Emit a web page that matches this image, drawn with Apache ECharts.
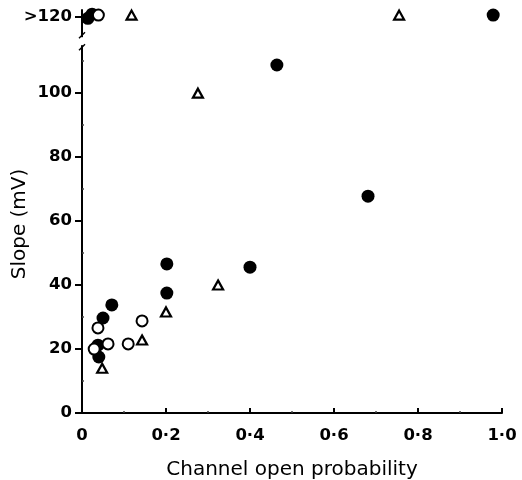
<!DOCTYPE html>
<html>
<head>
<meta charset="utf-8">
<script src="https://cdn.jsdelivr.net/npm/echarts@6/dist/echarts.min.js"></script>
<style>
html, body { margin: 0; padding: 0; background: #fff; }
#chart { width: 522px; height: 480px; }
</style>
</head>
<body>
<div id="chart"></div>
<script>
// 数据
var filledX = [0.014, 0.024, 0.038, 0.040, 0.050, 0.071, 0.202, 0.202, 0.400, 0.464, 0.681, 0.979];
var filledY = [123.4, 124.7, 21.2, 17.5, 29.7, 33.8, 46.6, 37.5, 45.6, 108.8, 67.8, 124.4];

var openX = [0.029, 0.038, 0.062, 0.110, 0.143, 0.039];
var openY = [20.0, 26.6, 21.6, 21.6, 28.8, 124.4];

var triX = [0.048, 0.143, 0.200, 0.324, 0.276, 0.118, 0.755];
var triY = [14.0, 22.8, 31.6, 40.0, 100.0, 124.4, 124.4];

var yTicks = [0, 20, 40, 60, 80, 100, 124];
var yMinorTicks = [10, 30, 50, 70, 90, 110];
var yTopLabel = '>120';

function pairs(xs, ys) {
    var out = [];
    for (var i = 0; i < xs.length; i++) out.push([xs[i], ys[i]]);
    return out;
}

var font = 'DejaVu Sans, sans-serif';
var chart = echarts.init(document.getElementById('chart'));

var option = {
    animation: false,
    grid: { left: 82, right: 20, top: 10, bottom: 67, outerBoundsMode: 'none', containLabel: false },
    xAxis: {
        type: 'value',
        min: 0,
        max: 1,
        interval: 0.2,
        name: 'Channel open probability',
        nameLocation: 'middle',
        nameGap: 47,
        nameTextStyle: { color: '#000', fontSize: 20, fontFamily: font },
        splitLine: { show: false },
        axisLine: { lineStyle: { color: '#000', width: 2 } },
        axisTick: { inside: true, length: 5, lineStyle: { color: '#000', width: 2 } },
        minorTick: { show: true, splitNumber: 2, length: 2, lineStyle: { color: '#444', width: 1.5 } },
        axisLabel: {
            margin: 14,
            color: '#000',
            fontSize: 16.5,
            fontWeight: 'bold',
            fontFamily: font,
            formatter: function (v) {
                return v === 0 ? '0' : v.toFixed(1).replace('.', '·');
            }
        }
    },
    yAxis: [
        {
            type: 'value',
            min: 0,
            max: 126,
            splitLine: { show: false },
            axisLine: { lineStyle: { color: '#000', width: 2 } },
            axisTick: { customValues: yTicks, length: 7, lineStyle: { color: '#000', width: 2 } },
            axisLabel: {
                customValues: yTicks,
                margin: 10,
                color: '#000',
                fontSize: 16.5,
                fontWeight: 'bold',
                fontFamily: font,
                formatter: function (v) {
                    return v === 124 ? yTopLabel : String(v);
                }
            }
        },
        {
            // 次刻度
            type: 'value',
            min: 0,
            max: 126,
            position: 'left',
            splitLine: { show: false },
            axisLine: { show: false },
            axisLabel: { show: false },
            axisTick: { customValues: yMinorTicks, inside: true, length: 2, lineStyle: { color: '#444', width: 1.5 } }
        }
    ],
    series: [
        {
            name: 'filled',
            type: 'scatter',
            symbol: 'circle',
            symbolSize: 13,
            itemStyle: { color: '#000', opacity: 1 },
            data: pairs(filledX, filledY)
        },
        {
            name: 'open',
            type: 'scatter',
            symbol: 'circle',
            symbolSize: 11,
            itemStyle: { color: '#fff', borderColor: '#000', borderWidth: 2, opacity: 1 },
            data: pairs(openX, openY)
        },
        {
            name: 'triangle',
            type: 'scatter',
            symbol: 'triangle',
            symbolSize: [10, 9],
            itemStyle: { color: '#fff', borderColor: '#000', borderWidth: 2.2, opacity: 1 },
            data: pairs(triX, triY)
        }
    ]
};
chart.setOption(option);

// y轴断开标记 + 轴名称
var pHi = chart.convertToPixel({ gridIndex: 0 }, [0, 117.5]);
var pLo = chart.convertToPixel({ gridIndex: 0 }, [0, 115]);
var x0 = pHi[0];
chart.setOption({
    graphic: [
        { type: 'rect', shape: { x: x0 - 3, y: pHi[1], width: 6, height: pLo[1] - pHi[1] }, style: { fill: '#fff' }, z: 100 },
        { type: 'line', shape: { x1: x0 - 3, y1: pHi[1] + 1, x2: x0 + 3, y2: pHi[1] - 5 }, style: { stroke: '#000', lineWidth: 1.5 }, z: 101 },
        { type: 'line', shape: { x1: x0 - 3, y1: pLo[1] + 5, x2: x0 + 3, y2: pLo[1] - 1 }, style: { stroke: '#000', lineWidth: 1.5 }, z: 101 },
        {
            type: 'text',
            x: 20, y: 224,
            rotation: Math.PI / 2,
            style: { text: 'Slope (mV)', fill: '#000', font: '20px ' + font, align: 'center', verticalAlign: 'middle' }
        }
    ]
});
</script>
</body>
</html>
